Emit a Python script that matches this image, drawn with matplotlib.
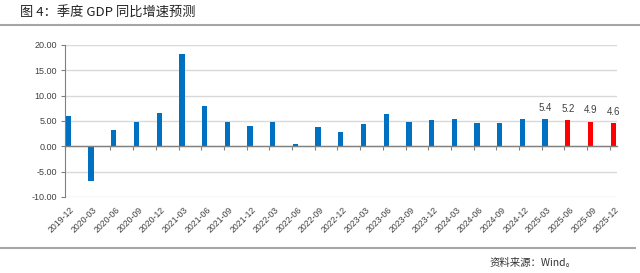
import matplotlib
matplotlib.use("Agg")
import matplotlib.pyplot as plt
import matplotlib.transforms as mtransforms
import numpy as np

categories = ["2019-12", "2020-03", "2020-06", "2020-09", "2020-12", "2021-03", "2021-06",
              "2021-09", "2021-12", "2022-03", "2022-06", "2022-09", "2022-12", "2023-03",
              "2023-06", "2023-09", "2023-12", "2024-03", "2024-06", "2024-09", "2024-12",
              "2025-03", "2025-06", "2025-09", "2025-12"]
actual = [6.0, -6.8, 3.2, 4.9, 6.5, 18.3, 7.9, 4.9, 4.0, 4.8, 0.4, 3.9, 2.9, 4.5,
          6.3, 4.9, 5.2, 5.3, 4.7, 4.6, 5.4, 5.4, None, None, None]
forecast = [None] * 22 + [5.2, 4.9, 4.6]
labels = {21: "5.4", 22: "5.2", 23: "4.9", 24: "4.6"}
yticks = [-10, -5, 0, 5, 10, 15, 20]

plt.rcParams['font.family'] = ['Liberation Sans', 'Noto Sans CJK SC', 'DejaVu Sans']

fig = plt.figure(figsize=(6.4, 2.73), dpi=100)
ax = fig.add_axes([65/640, 1-197/273, (617.3-65)/640, (197-45)/273])

x = np.arange(len(categories))
off = 0.15
w = 0.235
blue_x = [xi + off for xi, v in zip(x, actual) if v is not None]
blue_v = [v for v in actual if v is not None]
red_x = [xi + off for xi, v in zip(x, forecast) if v is not None]
red_v = [v for v in forecast if v is not None]
ax.bar(blue_x, blue_v, width=w, color="#0070C0", zorder=3)
ax.bar(red_x, red_v, width=w, color="#FF0000", zorder=3)

allv = [a if a is not None else f for a, f in zip(actual, forecast)]
for i, t in labels.items():
    ax.text(i + off, allv[i] + 1.2, t, ha='center', va='bottom', fontsize=7, color="#404040")

ax.set_xlim(0, 24.33)
ax.set_ylim(-10, 20)
ax.set_yticks(yticks)
ax.set_yticklabels([f"{v:.2f}" for v in yticks], fontsize=6.5, color="#404040")
ax.yaxis.grid(True, color="#D9D9D9", linewidth=1.0, zorder=0)
ax.tick_params(axis='y', length=3, width=0.8, color="#808080", pad=3)

for s in ['top', 'right']:
    ax.spines[s].set_visible(False)
ax.spines['left'].set_color("#808080")
ax.spines['left'].set_linewidth(0.8)
ax.spines['bottom'].set_position(('data', 0))
ax.spines['bottom'].set_color("#808080")
ax.spines['bottom'].set_linewidth(1.0)
ax.spines['bottom'].set_zorder(4)
ax.set_xticks(x)
ax.tick_params(axis='x', length=3, width=0.8, color="#808080", labelbottom=False, direction='out')

sec = ax.secondary_xaxis('bottom')
sec.set_xticks(x)
sec.set_xticklabels(categories, rotation=45, ha='right', rotation_mode='anchor',
                    fontsize=6.3, color="#404040")
sec.tick_params(length=0, pad=6)
sec.spines['bottom'].set_visible(False)
shift = mtransforms.ScaledTranslation(5/100, 0, fig.dpi_scale_trans)
for lab in sec.get_xticklabels():
    lab.set_transform(lab.get_transform() + shift)

fig.text(20/640, 1-13/273, "图 4：季度 GDP 同比增速预测", fontsize=9.5, color="#222222",
         va='center', ha='left', family=['Noto Sans CJK SC', 'DejaVu Sans'])
fig.add_artist(plt.Line2D([0, 1], [1-25/273, 1-25/273], color="#A6A6A6", linewidth=1.5))
fig.add_artist(plt.Line2D([0, 635/640], [1-248/273, 1-248/273], color="#A6A6A6", linewidth=1.5))
fig.text(490/640, 1-263/273, "资料来源：Wind。", fontsize=7.5, color="#333333",
         va='center', ha='left', family=['Noto Sans CJK SC', 'DejaVu Sans'])

fig.savefig("out.png", dpi=100)
